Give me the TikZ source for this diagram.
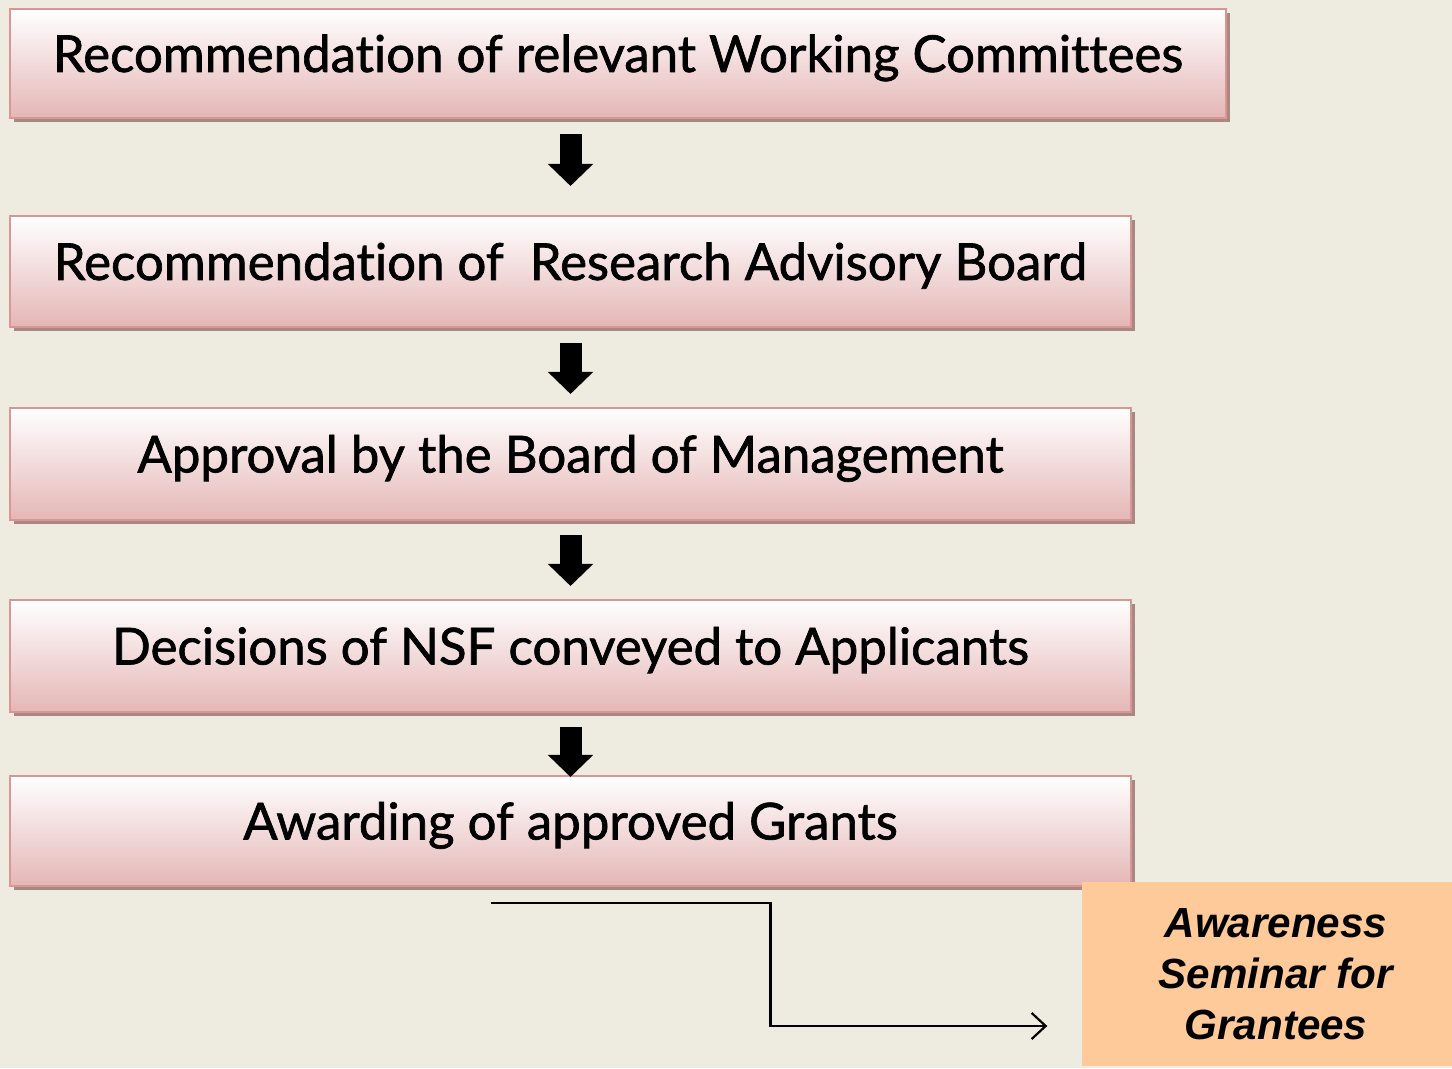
\documentclass[tikz,border=0pt]{standalone}
\usepackage{fontspec}
\setmainfont{Lato}[FakeBold=1.3, Ligatures=NoCommon]
\newfontfamily\seminarfont{Liberation Sans}
\usetikzlibrary{arrows.meta,shadows}
\definecolor{paper}{HTML}{EEEBE0}
\definecolor{stageline}{HTML}{D99694}
\definecolor{stagepink}{HTML}{E5B6B6}
\definecolor{stageshadow}{HTML}{A98883}
\definecolor{seminarfill}{HTML}{FFCA99}
\tikzset{
  stage/.style={draw=stageline, line width=0.02cm, shading=axis, top color=white,
    bottom color=stagepink, minimum width=11.21cm, minimum height=1.11cm, inner sep=0pt,
    text height=0.5cm, text depth=0.33cm, font=\fontsize{14.5}{17}\selectfont,
    drop shadow={shadow xshift=0.04cm, shadow yshift=-0.04cm, fill=stageshadow, opacity=1}},
  down/.style={line width=0.22cm, -{Triangle[length=0.22cm,width=0.44cm]}},
  link/.style={line width=0.022cm, -{Straight Barb[length=0.14cm,width=0.26cm]}},
  seminar/.style={fill=seminarfill, minimum width=3.88cm, minimum height=1.84cm, align=center,
    font=\seminarfont\bfseries\itshape\fontsize{12}{14.5}\selectfont}
}
\begin{document}
\begin{tikzpicture}
\clip (0,0) rectangle (14.52,10.68);
\fill [paper] (0,0) rectangle (14.52,10.68);
% the five stages
\node [stage, minimum width=12.16cm, minimum height=1.09cm] (wc) at (6.18,10.045) {Recommendation of relevant Working Committees};
\node [stage] (rab) at (5.705,7.965) {Recommendation of\ \ Research Advisory Board};
\node [stage, minimum height=1.12cm] (bom) at (5.705,6.04) {Approval by the Board of Management};
\node [stage, minimum height=1.12cm] (dec) at (5.705,4.12) {Decisions of NSF conveyed to Applicants};
\node [stage, minimum height=1.10cm] (awd) at (5.705,2.37) {Awarding of approved Grants};
% side box
\node [seminar] (aws) at (12.76,0.94) {Awareness\\Seminar for\\Grantees};
% arrows
\draw [down, shorten <=0.15cm, shorten >=0.29cm] (wc.south -| rab.north) -- (rab.north);
\draw [down, shorten <=0.15cm, shorten >=0.13cm] (rab.south) -- (bom.north);
\draw [down, shorten <=0.14cm, shorten >=0.13cm] (bom.south) -- (dec.north);
\draw [down, shorten <=0.14cm, shorten >=-0.02cm] (dec.south) -- (awd.north);
\draw [link] ([xshift=-0.8cm,yshift=-0.16cm]awd.south) -- ++(2.8,0) |- ([xshift=-0.34cm,yshift=-0.52cm]aws.west);
\end{tikzpicture}
\end{document}
